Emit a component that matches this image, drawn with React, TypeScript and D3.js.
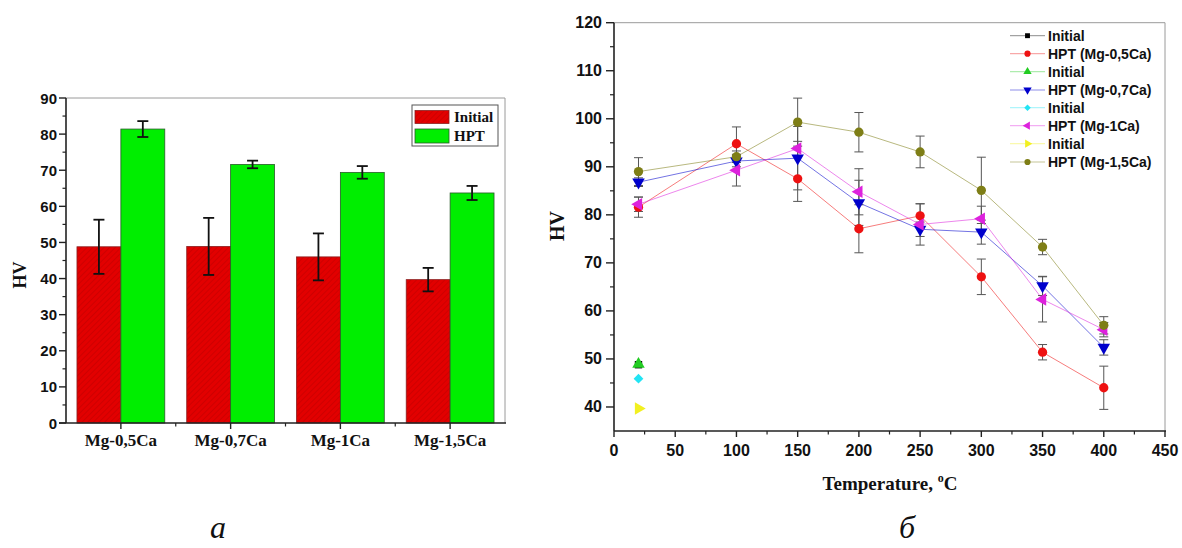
import React from 'react';
import * as d3 from 'd3';

// ---------- Data: panel a (bar chart) ----------
const categories = ['Mg-0,5Ca', 'Mg-0,7Ca', 'Mg-1Ca', 'Mg-1,5Ca'];
const barSeries = ['Initial', 'HPT'];
const initialHV = [48.8, 48.9, 46.0, 39.7];
const initialErr = [7.5, 7.9, 6.5, 3.25];
const hptHV = [81.4, 71.6, 69.4, 63.7];
const hptErr = [2.2, 1.05, 1.75, 1.95];
const leftYTicks = [0, 10, 20, 30, 40, 50, 60, 70, 80, 90];

// ---------- Data: panel б (temperature) ----------
const temperatures = [20, 100, 150, 200, 250, 300, 350, 400];
const hpt05 = [81.6, 94.8, 87.5, 77.1, 79.8, 67.1, 51.4, 44.0];
const hpt05Err = [2.1, 3.5, 4.7, 5.0, 2.5, 3.7, 1.6, 4.5];
const hpt07 = [86.8, 91.2, 91.8, 82.5, 77.0, 76.4, 65.2, 52.4];
const hpt07Err = [0.9, 1.2, 6.6, 4.7, 1.5, 2.5, 2.0, 1.6];
const hpt1 = [82.2, 89.3, 93.8, 84.8, 78.0, 79.2, 62.4, 56.1];
const hpt1Err = [1.5, 3.3, 1.5, 4.8, 4.3, 2.6, 4.7, 1.5];
const hpt15 = [89.0, 92.1, 99.3, 97.2, 93.1, 85.1, 73.3, 57.0];
const hpt15Err = [2.9, 1.2, 5.0, 4.1, 3.3, 6.9, 1.6, 1.8];
const initialTemp = [20];
const init05 = [48.8];
const init07 = [48.9];
const init1 = [45.9];
const init15 = [39.7];
const rightYTicks = [40, 50, 60, 70, 80, 90, 100, 110, 120];
const rightXTicks = [0, 50, 100, 150, 200, 250, 300, 350, 400, 450];

type Series = {
  label: string;
  x: number[];
  y: number[];
  err?: number[];
  color: string;
  shape: string;
  line: boolean;
};

const rightSeries: Series[] = [
  { label: 'Initial', x: initialTemp, y: init05, color: '#000000', shape: 'square', line: false },
  { label: 'HPT (Mg-0,5Ca)', x: temperatures, y: hpt05, err: hpt05Err, color: '#ee1111', shape: 'circle', line: true },
  { label: 'Initial', x: initialTemp, y: init07, color: '#22cc22', shape: 'up', line: false },
  { label: 'HPT (Mg-0,7Ca)', x: temperatures, y: hpt07, err: hpt07Err, color: '#0000cc', shape: 'down', line: true },
  { label: 'Initial', x: initialTemp, y: init1, color: '#22e4f4', shape: 'diamond', line: false },
  { label: 'HPT (Mg-1Ca)', x: temperatures, y: hpt1, err: hpt1Err, color: '#dd22dd', shape: 'left', line: true },
  { label: 'Initial', x: initialTemp, y: init15, color: '#f2f020', shape: 'right', line: false },
  { label: 'HPT (Mg-1,5Ca)', x: temperatures, y: hpt15, err: hpt15Err, color: '#7e7e16', shape: 'circle', line: true },
];

const SANS = "'Liberation Sans', Arial, sans-serif";
const SERIF = "'Liberation Serif', 'Times New Roman', serif";

function symbolPath(shape: string, size: number): { d: string; rot: number } {
  const gen = d3.symbol();
  switch (shape) {
    case 'square':
      return { d: gen.type(d3.symbolSquare).size(size * 0.8)() as string, rot: 0 };
    case 'circle':
      return { d: gen.type(d3.symbolCircle).size(size)() as string, rot: 0 };
    case 'diamond':
      return { d: gen.type(d3.symbolSquare).size(size * 0.7)() as string, rot: 45 };
    case 'up':
      return { d: gen.type(d3.symbolTriangle).size(size)() as string, rot: 0 };
    case 'down':
      return { d: gen.type(d3.symbolTriangle).size(size)() as string, rot: 180 };
    case 'left':
      return { d: gen.type(d3.symbolTriangle).size(size)() as string, rot: -90 };
    case 'right':
      return { d: gen.type(d3.symbolTriangle).size(size)() as string, rot: 90 };
  }
  return { d: '', rot: 0 };
}

function Marker({ x, y, shape, color, size }: { x: number; y: number; shape: string; color: string; size: number }) {
  const s = symbolPath(shape, size);
  return <path d={s.d} transform={`translate(${x},${y}) rotate(${s.rot})`} fill={color} />;
}

function BarPanel() {
  const left = 66, right = 505, top = 98, bottom = 423;
  const x0 = d3.scaleBand<string>().domain(categories).range([left, right]).paddingInner(0.2).paddingOuter(0.1);
  const x1 = d3.scaleBand<string>().domain(barSeries).range([0, x0.bandwidth()]);
  const y = d3.scaleLinear().domain([0, 90]).range([bottom, top]);
  const step = x0.step();
  const minorY = d3.range(5, 90, 10);
  const seriesVals = [initialHV, hptHV];
  const seriesErr = [initialErr, hptErr];
  const fills = ['url(#hatchRed)', '#00ee00'];
  return (
    <g>
      <defs>
        <pattern id="hatchRed" patternUnits="userSpaceOnUse" width="4" height="4" patternTransform="rotate(45)">
          <rect width="4" height="4" fill="#e20000" />
          <line x1="0" y1="0" x2="0" y2="4" stroke="#bb0000" strokeWidth="1" />
        </pattern>
      </defs>
      {/* frame */}
      <line x1={left} y1={top} x2={right} y2={top} stroke="#9a9a9a" strokeWidth={1} />
      <line x1={right} y1={top} x2={right} y2={bottom} stroke="#9a9a9a" strokeWidth={1} />
      {/* bars */}
      {categories.map((c, i) =>
        barSeries.map((s, k) => {
          const v = seriesVals[k][i];
          const bx = (x0(c) as number) + (x1(s) as number);
          const bw = x1.bandwidth();
          return (
            <rect key={c + s} x={bx} y={y(v)} width={bw} height={y(0) - y(v)} fill={fills[k]}
              stroke={k === 0 ? '#8a2020' : '#2a5a2a'} strokeWidth={0.8} />
          );
        })
      )}
      {/* error bars */}
      {categories.map((c, i) =>
        barSeries.map((s, k) => {
          const v = seriesVals[k][i];
          const e = seriesErr[k][i];
          const cx = (x0(c) as number) + (x1(s) as number) + x1.bandwidth() / 2;
          return (
            <g key={'e' + c + s} stroke="#111" strokeWidth={1.8}>
              <line x1={cx} x2={cx} y1={y(v + e)} y2={y(v - e)} />
              <line x1={cx - 5.5} x2={cx + 5.5} y1={y(v + e)} y2={y(v + e)} />
              <line x1={cx - 5.5} x2={cx + 5.5} y1={y(v - e)} y2={y(v - e)} />
            </g>
          );
        })
      )}
      {/* axes */}
      <line x1={left} y1={top} x2={left} y2={bottom} stroke="#222" strokeWidth={1.6} />
      <line x1={left - 7} y1={bottom} x2={right + 1} y2={bottom} stroke="#222" strokeWidth={1.6} />
      {leftYTicks.map(t => (
        <g key={'yt' + t}>
          <line x1={left - 7} x2={left} y1={y(t)} y2={y(t)} stroke="#222" strokeWidth={1.4} />
          <text x={57} y={y(t)} textAnchor="end" dominantBaseline="central" fontFamily={SANS} fontWeight="bold" fontSize={15} fill="#111">{t}</text>
        </g>
      ))}
      {minorY.map(t => (
        <line key={'ym' + t} x1={left - 3.5} x2={left} y1={y(t)} y2={y(t)} stroke="#222" strokeWidth={1.2} />
      ))}
      {categories.map(c => {
        const cx = (x0(c) as number) + x0.bandwidth() / 2;
        return (
          <g key={'xt' + c}>
            <line x1={cx} x2={cx} y1={bottom} y2={bottom + 6} stroke="#222" strokeWidth={1.4} />
            <text x={cx} y={446} textAnchor="middle" fontFamily={SERIF} fontWeight="bold" fontSize={17} fill="#111">{c}</text>
          </g>
        );
      })}
      {[1, 2, 3].map(i => (
        <line key={'xm' + i} x1={left + step * i} x2={left + step * i} y1={bottom} y2={bottom + 3.5} stroke="#222" strokeWidth={1.2} />
      ))}
      <text transform={`translate(26,275) rotate(-90)`} textAnchor="middle" fontFamily={SERIF} fontWeight="bold" fontSize={18} fill="#111">HV</text>
      {/* legend */}
      <rect x={412} y={105} width={86} height={41} fill="#fff" stroke="#555" strokeWidth={1} />
      <rect x={415} y={110.5} width={34} height={13} fill="url(#hatchRed)" stroke="#8a2020" strokeWidth={0.8} />
      <rect x={415} y={129} width={34} height={14} fill="#00ee00" stroke="#2a5a2a" strokeWidth={0.8} />
      <text x={454} y={122} fontFamily={SERIF} fontWeight="bold" fontSize={15} fill="#111">{barSeries[0]}</text>
      <text x={454} y={141} fontFamily={SERIF} fontWeight="bold" fontSize={15} fill="#111">{barSeries[1]}</text>
      <text x={218} y={538} textAnchor="middle" fontFamily={SERIF} fontStyle="italic" fontSize={32} fill="#111">а</text>
    </g>
  );
}

function LinePanel() {
  const left = 614, right = 1165, top = 22.7, bottom = 431;
  const x = d3.scaleLinear().domain([0, 450]).range([left, right]);
  const y = d3.scaleLinear().domain([35, 120]).range([bottom, top]);
  const minorY = d3.range(45, 120, 10);
  const minorX = d3.range(25, 450, 50);
  const lineGen = d3.line<[number, number]>().x(d => x(d[0])).y(d => y(d[1]));
  const legendRows = [35.7, 53.7, 71.7, 90, 107.7, 125.7, 143.7, 162];
  return (
    <g>
      <line x1={left} y1={top} x2={right} y2={top} stroke="#9a9a9a" strokeWidth={1} />
      <line x1={right} y1={top} x2={right} y2={bottom} stroke="#9a9a9a" strokeWidth={1} />
      {/* lines */}
      {rightSeries.filter(s => s.line).map(s => (
        <path key={'l' + s.label} d={lineGen(s.x.map((t, i) => [t, s.y[i]] as [number, number])) as string}
          fill="none" stroke={s.color} strokeOpacity={0.55} strokeWidth={1} />
      ))}
      {/* error bars */}
      {rightSeries.filter(s => s.err).map(s => (
        <g key={'eb' + s.label} stroke="#555" strokeWidth={1}>
          {s.x.map((t, i) => {
            const e = (s.err as number[])[i];
            const cx = x(t);
            return (
              <g key={i}>
                <line x1={cx} x2={cx} y1={y(s.y[i] + e)} y2={y(s.y[i] - e)} />
                <line x1={cx - 4.5} x2={cx + 4.5} y1={y(s.y[i] + e)} y2={y(s.y[i] + e)} />
                <line x1={cx - 4.5} x2={cx + 4.5} y1={y(s.y[i] - e)} y2={y(s.y[i] - e)} />
              </g>
            );
          })}
        </g>
      ))}
      {/* markers */}
      {rightSeries.map(s => (
        <g key={'m' + s.label + s.color}>
          {s.x.map((t, i) => (
            <Marker key={i} x={x(t)} y={y(s.y[i])} shape={s.shape} color={s.color} size={68} />
          ))}
        </g>
      ))}
      {/* axes */}
      <line x1={left} y1={top} x2={left} y2={bottom} stroke="#222" strokeWidth={1.6} />
      <line x1={left} y1={bottom} x2={right + 1} y2={bottom} stroke="#222" strokeWidth={1.6} />
      {rightYTicks.map(t => (
        <g key={'ry' + t}>
          <line x1={left - 8} x2={left} y1={y(t)} y2={y(t)} stroke="#222" strokeWidth={1.4} />
          <text x={602} y={y(t)} textAnchor="end" dominantBaseline="central" fontFamily={SANS} fontWeight="bold" fontSize={16} fill="#111">{t}</text>
        </g>
      ))}
      {minorY.map(t => (
        <line key={'rym' + t} x1={left - 4} x2={left} y1={y(t)} y2={y(t)} stroke="#222" strokeWidth={1.2} />
      ))}
      {rightXTicks.map(t => (
        <g key={'rx' + t}>
          <line x1={x(t)} x2={x(t)} y1={bottom} y2={bottom + 6} stroke="#222" strokeWidth={1.4} />
          <text x={x(t)} y={456} textAnchor="middle" fontFamily={SANS} fontWeight="bold" fontSize={16} fill="#111">{t}</text>
        </g>
      ))}
      {minorX.map(t => (
        <line key={'rxm' + t} x1={x(t)} x2={x(t)} y1={bottom} y2={bottom + 3.5} stroke="#222" strokeWidth={1.2} />
      ))}
      <text transform={`translate(564,226) rotate(-90)`} textAnchor="middle" fontFamily={SERIF} fontWeight="bold" fontSize={20} fill="#111">HV</text>
      <text x={890} y={490} textAnchor="middle" fontFamily={SERIF} fontWeight="bold" fontSize={19} fill="#111">
        Temperature, <tspan fontSize={12} dy={-8}>o</tspan><tspan dy={8}>C</tspan>
      </text>
      {/* legend */}
      {rightSeries.map((s, i) => {
        const ly = legendRows[i];
        return (
          <g key={'lg' + i}>
            <line x1={1010} x2={1045} y1={ly} y2={ly} stroke={s.color} strokeOpacity={0.45} strokeWidth={1} />
            <Marker x={1027.5} y={ly} shape={s.shape} color={s.color} size={30} />
            <text x={1048} y={ly} dominantBaseline="central" fontFamily={SANS} fontWeight="bold" fontSize={14} fill="#111">{s.label}</text>
          </g>
        );
      })}
      <text x={907} y={538} textAnchor="middle" fontFamily={SERIF} fontStyle="italic" fontSize={32} fill="#111">б</text>
    </g>
  );
}

export default function App() {
  return (
    <svg width={1182} height={548} viewBox="0 0 1182 548"
      style={{ position: 'absolute', left: 0, top: 0, background: '#fff' }}>
      <rect width={1182} height={548} fill="#fff" />
      <BarPanel />
      <LinePanel />
    </svg>
  );
}
